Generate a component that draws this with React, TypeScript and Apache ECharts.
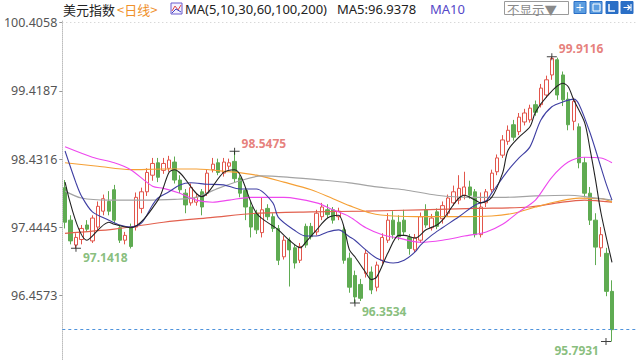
import React, { useEffect, useRef } from "react";
import * as echarts from "echarts";

// Daily candles (open / close / low / high)
const opens = [
  98.02, 97.55, 97.19, 97.27, 97.48, 97.25, 97.45, 97.68, 97.82, 97.99,
  97.44, 97.26, 97.45, 97.45, 97.72, 97.96, 98.2, 98.38, 98.27, 98.3,
  98.39, 98.13, 97.94, 97.8, 97.81, 97.96, 97.94, 98.28, 98.38, 98.23,
  98.33, 98.4, 98.16, 97.98, 97.74, 97.65, 97.37, 97.72, 97.6, 97.43,
  97.02, 97.26, 97.15, 96.97, 97.46, 97.46, 97.38, 97.6, 97.7, 97.7,
  97.6, 97.41, 97.0, 96.75, 96.62, 96.78, 96.8, 96.58, 96.97, 97.26,
  97.55, 97.52, 97.55, 97.3, 97.12, 97.26, 97.7, 97.44, 97.67, 97.57,
  97.65, 97.8, 97.84, 97.91, 98.03, 97.96, 97.34, 97.8, 97.99, 98.25,
  98.49, 98.69, 98.93, 98.83, 98.97, 99.0, 99.22, 99.22, 99.36, 99.65,
  99.87, 99.65, 99.3, 98.98, 98.9, 98.38, 97.94, 97.55, 97.15, 97.07,
  96.52,
];
const closes = [
  97.52, 97.25, 97.3, 97.43, 97.42, 97.58, 97.75, 97.86, 97.68, 97.55,
  97.26, 97.33, 97.17, 97.88, 97.96, 98.24, 98.37, 98.17, 98.37, 98.42,
  98.13, 97.99, 97.77, 98.02, 97.88, 97.74, 98.23, 98.36, 98.24, 98.39,
  98.38, 98.15, 97.94, 97.74, 97.45, 97.41, 97.7, 97.6, 97.43, 96.97,
  97.26, 97.12, 96.93, 97.17, 97.19, 97.31, 97.65, 97.74, 97.63, 97.55,
  97.68, 96.97, 96.58, 96.44, 96.42, 97.07, 96.54, 96.9, 97.3, 97.55,
  97.34, 97.31, 97.38, 97.14, 97.3, 97.6, 97.48, 97.58, 97.46, 97.76,
  97.87, 97.96, 98.01, 98.03, 97.91, 97.34, 97.74, 97.96, 98.23, 98.45,
  98.71, 98.85, 98.75, 99.04, 99.1, 99.17, 99.11, 99.46, 99.58, 99.89,
  99.36, 99.29, 98.93, 99.27, 98.38, 97.94, 97.55, 97.16, 97.34, 96.52,
  95.966,
];
const lows = [
  97.43, 97.2, 97.1418, 97.2, 97.38, 97.22, 97.4, 97.62, 97.62, 97.5,
  97.22, 97.2, 97.14, 97.4, 97.65, 97.9, 98.12, 98.1, 98.22, 98.25,
  98.08, 97.94, 97.65, 97.76, 97.76, 97.62, 97.9, 98.24, 98.2, 98.18,
  98.28, 98.1, 97.88, 97.55, 97.3, 97.35, 97.3, 97.55, 97.38, 96.9,
  96.98, 96.59, 96.85, 96.93, 97.15, 97.27, 97.33, 97.55, 97.58, 97.5,
  97.55, 96.92, 96.5, 96.3534, 96.38, 96.72, 96.48, 96.52, 96.92, 97.22,
  97.28, 97.26, 97.33, 97.05, 97.08, 97.22, 97.44, 97.4, 97.42, 97.5,
  97.6, 97.76, 97.78, 97.85, 97.86, 97.3, 97.3, 97.74, 97.95, 98.2,
  98.45, 98.64, 98.7, 98.78, 98.92, 98.96, 99.06, 99.18, 99.32, 99.58,
  99.29, 99.2, 98.85, 98.85, 98.3, 97.88, 97.48, 96.9, 97.02, 96.45,
  95.7931,
];
const highs = [
  98.13, 97.62, 97.36, 97.48, 97.55, 97.62, 97.82, 97.92, 97.97, 98.06,
  97.48, 97.38, 97.5, 97.95, 98.02, 98.3, 98.45, 98.45, 98.45, 98.48,
  98.47, 98.2, 98.0, 98.08, 97.93, 98.0, 98.28, 98.45, 98.44, 98.45,
  98.44, 98.5475, 98.2, 98.02, 97.82, 97.7, 97.88, 97.78, 97.65, 97.48,
  97.32, 97.3, 97.2, 97.22, 97.5, 97.51, 97.7, 97.8, 97.78, 97.74,
  97.73, 97.46, 97.08, 96.82, 96.7, 97.12, 96.88, 96.95, 97.36, 97.65,
  97.68, 97.62, 97.7, 97.35, 97.35, 97.66, 97.78, 97.64, 97.72, 97.82,
  97.92, 98.05, 98.2, 98.25, 98.12, 98.0, 97.95, 98.0, 98.28, 98.5,
  98.78, 98.92, 99.0, 99.1, 99.16, 99.22, 99.28, 99.52, 99.64, 99.9116,
  99.9, 99.7, 99.4, 99.32, 98.95, 98.46, 98.03, 97.65, 97.45, 97.15,
  96.68,
];

// Moving averages read at sampled candles: [candle index, value]
const ma5: [number, number][] = [
  [0, 98.1], [4, 97.26], [8, 97.52], [9, 97.49], [12, 97.44], [17, 97.84],
  [19, 98.24], [20, 98.28], [25, 97.89], [29, 98.24], [31, 98.28], [35, 97.65],
  [39, 97.41], [41, 97.26], [43, 97.15], [44, 97.23], [46, 97.41], [48, 97.58],
  [50, 97.62], [51, 97.45], [52, 97.12], [53, 97.02], [55, 96.79], [56, 96.69],
  [57, 96.73], [59, 97.07], [61, 97.33], [62, 97.33], [64, 97.29], [66, 97.41],
  [68, 97.48], [69, 97.55], [73, 97.91], [75, 97.84], [76, 97.8], [78, 97.88],
  [80, 98.23], [81, 98.56], [83, 98.75], [85, 98.9], [86, 99.11], [88, 99.33],
  [91, 99.53], [92, 99.48], [93, 99.29], [95, 98.96], [96, 98.57], [97, 98.13],
  [98, 97.65], [100, 96.94],
];
const ma10: [number, number][] = [
  [0, 98.55], [2, 98.09], [3, 97.9], [5, 97.67], [8, 97.55], [10, 97.48],
  [12, 97.45], [14, 97.51], [16, 97.77], [17, 97.87], [19, 97.96], [21, 98.06],
  [23, 98.09], [26, 98.07], [29, 98.06], [32, 98.0], [35, 98.0], [38, 97.8],
  [39, 97.59], [42, 97.4], [44, 97.32], [46, 97.32], [48, 97.38], [50, 97.41],
  [52, 97.31], [53, 97.26], [55, 97.12], [57, 97.0], [60, 96.93], [62, 96.97],
  [64, 97.09], [65, 97.19], [67, 97.33], [69, 97.44], [72, 97.6], [75, 97.77],
  [77, 97.83], [78, 97.94], [81, 98.27], [83, 98.45], [85, 98.61], [87, 99.0],
  [89, 99.19], [91, 99.26], [93, 99.3], [94, 99.22], [96, 98.81], [98, 98.31],
  [99, 98.06], [100, 97.84],
];
const ma30: [number, number][] = [
  [0, 98.61], [5, 98.46], [9, 98.38], [12, 98.28], [16, 98.04], [18, 98.01],
  [21, 97.94], [24, 97.84], [27, 97.81], [30, 97.84], [34, 97.88], [40, 97.88],
  [46, 97.8], [49, 97.7], [52, 97.6], [55, 97.44], [58, 97.34], [61, 97.29],
  [65, 97.23], [69, 97.26], [73, 97.32], [77, 97.38], [80, 97.49], [83, 97.67],
  [86, 97.84], [89, 98.17], [92, 98.39], [95, 98.46], [98, 98.45], [100, 98.38],
];
const ma60: [number, number][] = [
  [0, 97.97], [3, 97.87], [8, 97.84], [14, 97.84], [20, 97.85], [24, 97.88],
  [28, 98.01], [32, 98.12], [36, 98.19], [41, 98.17], [47, 98.13], [52, 98.09],
  [57, 98.03], [62, 97.99], [68, 97.91], [74, 97.88], [80, 97.88], [86, 97.9],
  [92, 97.91], [96, 97.88], [100, 97.84],
];
const ma100: [number, number][] = [
  [0, 98.38], [6, 98.33], [12, 98.28], [18, 98.29], [24, 98.29], [30, 98.25],
  [35, 98.2], [40, 98.1], [45, 97.99], [49, 97.86], [52, 97.76], [56, 97.65],
  [60, 97.61], [66, 97.6], [72, 97.6], [78, 97.61], [82, 97.65], [86, 97.74],
  [90, 97.82], [94, 97.87], [98, 97.86], [100, 97.81],
];
const ma200: [number, number][] = [
  [0, 97.36], [9, 97.42], [18, 97.52], [27, 97.59], [35, 97.65], [45, 97.67],
  [55, 97.68], [65, 97.7], [75, 97.72], [85, 97.74], [90, 97.8], [95, 97.84],
  [100, 97.81],
];

// Marked extremes
const extremeIdx = [2, 31, 53, 89, 100];
const extremeVal = [97.1418, 98.5475, 96.3534, 99.9116, 95.7931];
const extremeKind = ["low", "high", "low", "high", "low"];

const yTicks = [96.4573, 97.4445, 98.4316, 99.4187, 100.4058];
const yMin = 95.5273;
const yMax = 100.4449;
const topLine = 100.4058;
const padCategories = 4;

const UP = "#e2554b";
const DOWN = "#5fab52";

export default function App() {
  const ref = useRef<HTMLDivElement>(null);
  useEffect(() => {
    const chart = echarts.init(ref.current!, null, { renderer: "svg" });
    const n = opens.length;
    const categories = Array.from({ length: n + padCategories }, (_, i) => String(i));
    const candles = opens.map((o, i) => [o, closes[i], lows[i], highs[i]]);
    const lastClose = closes[n - 1];

    const barPath = "path://M0,3H10V4H0Z M4.5,0H5.5V7H4.5Z";
    const markers = extremeIdx.map((idx, k) => {
      const isHigh = extremeKind[k] === "high";
      const isLast = idx === n - 1;
      return {
        value: [idx, extremeVal[k]],
        symbolOffset: isLast ? [-6, 0] : [0, 0],
        label: {
          show: true,
          position: isLast ? "left" : "right",
          distance: 2,
          offset: isHigh ? [0, -8] : [0, 9],
          color: isHigh ? "#e0605a" : "#6aae5c",
          fontWeight: "bold",
          fontSize: 12,
          fontFamily: "Noto Sans",
          formatter: () => extremeVal[k].toFixed(4),
        },
      };
    });

    const maLine = (name: string, data: [number, number][], color: string, width = 1) => ({
      name,
      type: "line",
      data,
      symbol: "none",
      showSymbol: false,
      smooth: 0.3,
      z: 3,
      silent: true,
      lineStyle: { color, width },
    });

    const hdrFont = '13px "Noto Sans CJK SC", "Noto Sans"';
    const txt = (text: string, x: number, fill: string, font = hdrFont) => ({
      type: "text",
      x,
      y: 9,
      style: { text, fill, font, verticalAlign: "middle", textVerticalAlign: "middle" },
    });
    const iconXs = [574, 590, 606, 621];
    const iconFills = ["#5b9de0", "#5b9de0", "#2a6fc6", "#2a6fc6"];

    chart.setOption({
      animation: false,
      backgroundColor: "#ffffff",
      textStyle: { fontFamily: "Noto Sans" },
      grid: { left: 62.3, right: 3.4, top: 20, bottom: 0, containLabel: false },
      xAxis: {
        type: "category",
        data: categories,
        boundaryGap: true,
        axisLine: { show: false },
        axisTick: { show: false },
        axisLabel: { show: false },
        splitLine: { show: false },
      },
      yAxis: {
        type: "value",
        min: yMin,
        max: yMax,
        scale: true,
        axisLine: { show: true, lineStyle: { color: "#bdbdbd", type: "dotted" } },
        axisTick: { show: true, length: 3, customValues: yTicks, lineStyle: { color: "#999" } },
        axisLabel: {
          customValues: yTicks,
          formatter: (v: number) => v.toFixed(4),
          color: "#555",
          fontSize: 12.5,
          fontFamily: "Noto Sans",
          margin: 5,
        },
        splitLine: { show: false },
      },
      series: [
        {
          name: "美元指数",
          type: "candlestick",
          data: candles,
          barWidth: 3.8,
          z: 2,
          itemStyle: {
            color: "#ffffff",
            borderColor: UP,
            color0: DOWN,
            borderColor0: DOWN,
            borderWidth: 1,
          },
          markLine: {
            silent: true,
            symbol: ["none", "none"],
            label: { show: false },
            lineStyle: { color: "#4f93dc", type: [3, 3], width: 1, opacity: 1 },
            emphasis: { disabled: true },
            data: [
              {
                yAxis: topLine,
                lineStyle: { color: "#c8c8c8", type: [1, 3], width: 1 },
              },
              {
                yAxis: lastClose,
                lineStyle: { color: "#4f93dc", type: [3, 3], width: 1 },
              },
            ],
          },
        },
        maLine("MA200", ma200, "#e2604e", 1.2),
        maLine("MA100", ma100, "#f5a036", 1.2),
        maLine("MA60", ma60, "#a3a3a3", 1.2),
        maLine("MA30", ma30, "#ee48ee", 1.1),
        maLine("MA10", ma10, "#3f3fa3", 1.1),
        maLine("MA5", ma5, "#222222", 1.1),
        {
          name: "extremes",
          type: "scatter",
          data: markers,
          symbol: barPath,
          symbolSize: [10, 7],
          z: 5,
          silent: true,
          itemStyle: { color: "#111" },
        },
      ],
      graphic: [
        txt("美元指数", 63, "#222"),
        txt("<日线>", 117, "#f0902a"),
        {
          type: "rect",
          shape: { x: 171, y: 3, width: 11, height: 11 },
          style: { fill: "#f4f2ff", stroke: "#6a5acd", lineWidth: 1 },
        },
        {
          type: "polyline",
          shape: { points: [[172, 11], [175, 6], [178, 10], [181, 5]] },
          style: { stroke: "#e04a4a", lineWidth: 1, fill: null },
        },
        {
          type: "polyline",
          shape: { points: [[172, 13], [176, 9], [181, 12]] },
          style: { stroke: "#4040c0", lineWidth: 1, fill: null },
        },
        txt("MA(5,10,30,60,100,200)", 185, "#222", '13px "Noto Sans"'),
        txt("MA5:96.9378", 337, "#222", '13px "Noto Sans"'),
        txt("MA10", 430, "#5548c8", '13px "Noto Sans"'),
        {
          type: "rect",
          shape: { x: 504.5, y: 1.5, width: 64, height: 13 },
          style: { fill: "#ffffff", stroke: "#9a9a9a", lineWidth: 1 },
        },
        txt("不显示▼", 507, "#8a8a8a", '12.5px "Noto Sans CJK SC", "Noto Sans"'),
        ...iconXs.map((x, k) => ({
          type: "rect",
          shape: { x, y: 1.5, width: 12, height: 12 },
          style: { fill: iconFills[k], stroke: "#2a6fc6", lineWidth: 1 },
        })),
        {
          type: "polyline",
          shape: { points: [[576.5, 7.5], [583.5, 7.5]] },
          style: { stroke: "#fff", lineWidth: 1, fill: null },
        },
        {
          type: "polyline",
          shape: { points: [[580, 4], [580, 11]] },
          style: { stroke: "#fff", lineWidth: 1, fill: null },
        },
        {
          type: "rect",
          shape: { x: 593, y: 4, width: 7, height: 7 },
          style: { fill: null, stroke: "#fff", lineWidth: 1 },
        },
        {
          type: "polyline",
          shape: { points: [[609, 4], [609, 11], [615, 11]] },
          style: { stroke: "#fff", lineWidth: 1.5, fill: null },
        },
        {
          type: "polyline",
          shape: { points: [[623.5, 7.5], [630, 7.5], [627.5, 5], [630, 7.5], [627.5, 10]] },
          style: { stroke: "#fff", lineWidth: 1.2, fill: null },
        },
        {
          type: "polyline",
          shape: { points: [[631, 4], [631, 11]] },
          style: { stroke: "#fff", lineWidth: 1, fill: null },
        },
      ],
    });
    return () => chart.dispose();
  }, []);
  return (
    <div
      ref={ref}
      style={{ position: "fixed", left: 0, top: 0, width: 640, height: 360 }}
    />
  );
}
